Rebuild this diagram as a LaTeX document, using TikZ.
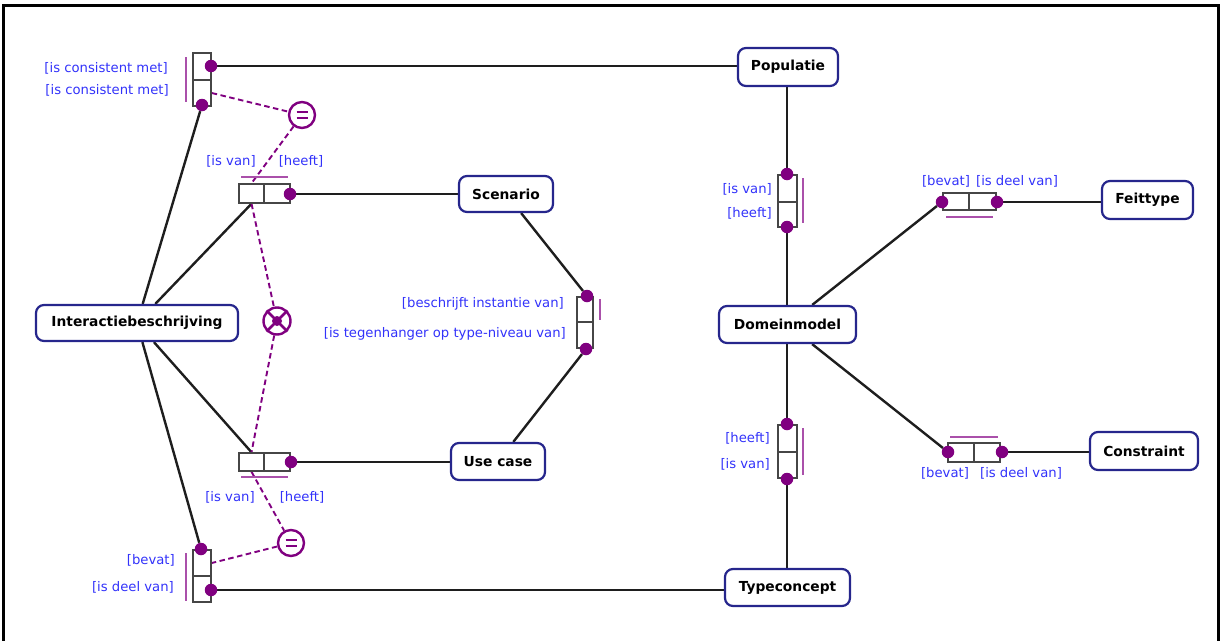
\documentclass[tikz,border=0pt]{standalone}
\usepackage{fontspec}
\setmainfont{DejaVu Sans}
\pgfdeclarelayer{background}
\pgfsetlayers{background,main}
\definecolor{objblue}{RGB}{38,38,140}
\definecolor{lblblue}{RGB}{50,50,250}
\definecolor{ormpurple}{RGB}{128,0,128}
\definecolor{uniqpurple}{RGB}{170,80,170}
\definecolor{linegray}{RGB}{30,30,30}
\definecolor{rolegray}{RGB}{70,70,70}
\begin{document}
\begin{tikzpicture}[x=1pt,y=-1pt,
  obj/.style={draw=objblue, line width=2.2pt, rounded corners=8pt, fill=white,
    font=\bfseries\fontsize{13.8}{16}\selectfont, inner sep=0pt},
  role/.style={draw=rolegray, line width=1.5pt, fill=white, inner sep=0pt},
  lbl/.style={text=lblblue, font=\fontsize{13.2}{15}\selectfont, inner sep=0pt},
  conn/.style={draw=linegray, line width=2.4pt},
  roledot/.style={circle, fill=ormpurple, inner sep=0pt, minimum size=12.5pt},
  uniq/.style={draw=uniqpurple, line width=1.8pt},
  subset/.style={draw=ormpurple, line width=1.9pt, dash pattern=on 5.5pt off 3.5pt},
  eqc/.style={circle, draw=ormpurple, line width=2.4pt, fill=white, minimum size=26pt, inner sep=0pt},
]
\useasboundingbox (0,0) rectangle (1221,640);

% frame
\draw[line width=3.5pt, black] (3.5,645) -- (3.5,5.5) -- (1218.5,5.5) -- (1218.5,645);

% object types
\node[obj, minimum width=100pt, minimum height=38pt] (pop)   at (788,67)      {Populatie};
\node[obj, minimum width=94pt,  minimum height=36pt] (scen)  at (506,194)     {Scenario};
\node[obj, minimum width=202pt, minimum height=36pt] (inter) at (137,323)     {Interactiebeschrijving};
\node[obj, minimum width=137pt, minimum height=37pt] (dom)   at (787.5,324.5) {Domeinmodel};
\node[obj, minimum width=91pt,  minimum height=38pt] (feit)  at (1147.5,200)  {Feittype};
\node[obj, minimum width=94pt,  minimum height=37pt] (uc)    at (498,461.5)   {Use case};
\node[obj, minimum width=108pt, minimum height=38pt] (cons)  at (1144,451)    {Constraint};
\node[obj, minimum width=125pt, minimum height=37pt] (tc)    at (787.5,587.5) {Typeconcept};

% fact type: Interactiebeschrijving is consistent met Populatie
\node[role, minimum width=18pt, minimum height=27pt] (ft1a) at (202,66.5) {};
\node[role, minimum width=18pt, minimum height=26pt] (ft1b) at (202,93) {};
\node[roledot] (d1a) at (211,66) {};
\node[roledot] (d1b) at (202,105) {};
\draw[uniq] (186,57) -- (186,102);
\node[lbl, anchor=east] (l1a) at (168,68) {[is consistent met]};
\node[lbl, anchor=east] (l1b) at (169,90) {[is consistent met]};

% fact type: Scenario heeft Interactiebeschrijving
\node[role, minimum width=25pt, minimum height=19pt] (ft2a) at (251.5,193.5) {};
\node[role, minimum width=26pt, minimum height=19pt] (ft2b) at (277,193.5) {};
\node[roledot] (d2b) at (290,194) {};
\draw[uniq] (241,177) -- (288,177);
\node[lbl] (l2a) at (231,161) {[is van]};
\node[lbl] (l2b) at (301,161) {[heeft]};

% fact type: Use case heeft Interactiebeschrijving
\node[role, minimum width=25pt, minimum height=18pt] (ft3a) at (251.5,462) {};
\node[role, minimum width=26pt, minimum height=18pt] (ft3b) at (277,462) {};
\node[roledot] (d3b) at (291,462) {};
\draw[uniq] (241,477) -- (288,477);
\node[lbl] (l3a) at (230,497) {[is van]};
\node[lbl] (l3b) at (302,497) {[heeft]};

% fact type: Interactiebeschrijving is deel van Typeconcept
\node[role, minimum width=18pt, minimum height=26pt] (ft4a) at (202,563) {};
\node[role, minimum width=18pt, minimum height=26pt] (ft4b) at (202,589) {};
\node[roledot] (d4a) at (201,549) {};
\node[roledot] (d4b) at (211,590) {};
\draw[uniq] (186,553) -- (186,601);
\node[lbl, anchor=east] (l4a) at (175,560) {[bevat]};
\node[lbl, anchor=east] (l4b) at (174,587) {[is deel van]};

% fact type: Scenario beschrijft instantie van Use case
\node[role, minimum width=16pt, minimum height=25pt] (ft5a) at (585,309.5) {};
\node[role, minimum width=16pt, minimum height=26pt] (ft5b) at (585,335) {};
\node[roledot] (d5a) at (587,296) {};
\node[roledot] (d5b) at (586,349) {};
\draw[uniq] (600,299) -- (600,320);
\node[lbl, anchor=east] (l5a) at (564,304) {[beschrijft instantie van]};
\node[lbl, anchor=east] (l5b) at (566,334) {[is tegenhanger op type-niveau van]};

% fact type: Domeinmodel heeft Populatie
\node[role, minimum width=19pt, minimum height=27pt] (ft6a) at (787.5,188.5) {};
\node[role, minimum width=19pt, minimum height=25pt] (ft6b) at (787.5,214.5) {};
\node[roledot] (d6a) at (787,174) {};
\node[roledot] (d6b) at (787,227) {};
\draw[uniq] (803,178) -- (803,223);
\node[lbl, anchor=east] (l6a) at (772,189) {[is van]};
\node[lbl, anchor=east] (l6b) at (772,213) {[heeft]};

% fact type: Typeconcept heeft Domeinmodel
\node[role, minimum width=19pt, minimum height=27pt] (ft7a) at (787.5,438.5) {};
\node[role, minimum width=19pt, minimum height=26pt] (ft7b) at (787.5,465) {};
\node[roledot] (d7a) at (787,424) {};
\node[roledot] (d7b) at (787,479) {};
\draw[uniq] (803,428) -- (803,475);
\node[lbl, anchor=east] (l7a) at (770,438) {[heeft]};
\node[lbl, anchor=east] (l7b) at (770,464) {[is van]};

% fact type: Domeinmodel bevat Feittype
\node[role, minimum width=26pt, minimum height=17pt] (ft8a) at (956,201.5) {};
\node[role, minimum width=27pt, minimum height=17pt] (ft8b) at (982.5,201.5) {};
\node[roledot] (d8a) at (942,202) {};
\node[roledot] (d8b) at (997,202) {};
\draw[uniq] (946,217) -- (993,217);
\node[lbl] (l8a) at (946,181) {[bevat]};
\node[lbl] (l8b) at (1017,181) {[is deel van]};

% fact type: Domeinmodel bevat Constraint
\node[role, minimum width=26pt, minimum height=19pt] (ft9a) at (961,452.5) {};
\node[role, minimum width=26pt, minimum height=19pt] (ft9b) at (987,452.5) {};
\node[roledot] (d9a) at (948,452) {};
\node[roledot] (d9b) at (1002,452) {};
\draw[uniq] (950,437) -- (998,437);
\node[lbl] (l9a) at (945,473) {[bevat]};
\node[lbl] (l9b) at (1021,473) {[is deel van]};

% equality constraints
\node[eqc] (eq1) at (302,115) {};
\draw[ormpurple, line width=2.3pt] ([xshift=-5.5pt,yshift=-2.8pt]eq1.center) -- ++(11,0)
  ([xshift=-5.5pt,yshift=2.8pt]eq1.center) -- ++(11,0);
\node[eqc] (eq2) at (291,543) {};
\draw[ormpurple, line width=2.3pt] ([xshift=-5.5pt,yshift=-2.8pt]eq2.center) -- ++(11,0)
  ([xshift=-5.5pt,yshift=2.8pt]eq2.center) -- ++(11,0);

% exclusive-or constraint
\node[eqc, minimum size=27pt] (xc) at (277,321) {};
\draw[ormpurple, line width=2.8pt] (xc.north east) -- (xc.south west)
  (xc.north west) -- (xc.south east);
\fill[ormpurple] (xc.center) circle (5pt);

\begin{pgfonlayer}{background}
  % role connectors
  \draw[conn] (d1a) -- (d1a -| pop.west);
  \draw[conn] (d1b) -- (inter);
  \draw[conn] (ft2a.south) -- (inter);
  \draw[conn] (d2b) -- (d2b -| scen.west);
  \draw[conn] (ft3a.north) -- (inter);
  \draw[conn] (d3b) -- (d3b -| uc.west);
  \draw[conn] (d4a) -- (inter);
  \draw[conn] (d4b) -- (d4b -| tc.west);
  \draw[conn] (d5a) -- (scen);
  \draw[conn] (d5b) -- (uc);
  \draw[conn] (d6a |- pop.south) -- (d6a);
  \draw[conn] (d6b) -- (d6b |- dom.north);
  \draw[conn] (d7a |- dom.south) -- (d7a);
  \draw[conn] (d7b) -- (d7b |- tc.north);
  \draw[conn] (dom) -- (d8a);
  \draw[conn] (dom) -- (d9a);
  \draw[conn] (d8b) -- (d8b -| feit.west);
  \draw[conn] (d9b) -- (d9b -| cons.west);
  % constraint connectors
  \draw[subset] (ft1b.east) -- (eq1);
  \draw[subset] (eq1) -- (ft2a.north);
  \draw[subset] (ft2a.south) -- (xc);
  \draw[subset] (xc) -- (ft3a.north);
  \draw[subset] (ft3a.south) -- (eq2);
  \draw[subset] (eq2) -- (ft4a.east);
\end{pgfonlayer}
\end{tikzpicture}
\end{document}
